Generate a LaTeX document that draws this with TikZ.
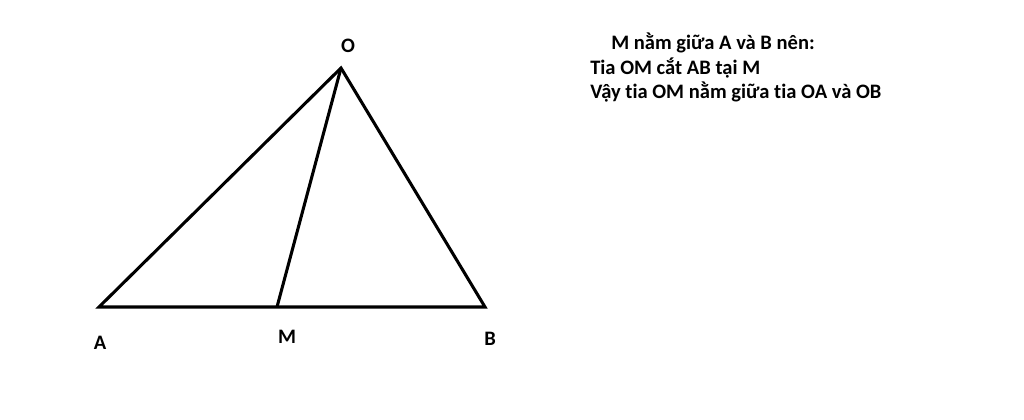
\documentclass[tikz,border=0pt]{standalone}
\usepackage{fontspec}
\setmainfont[Ligatures=NoCommon]{Carlito}
\begin{document}
\begin{tikzpicture}[x=0.75pt,y=-0.75pt,
  edge/.style={line width=2.3pt,black},
  lbl/.style={font=\fontsize{15.4}{18}\selectfont\bfseries,inner sep=0pt},
  txt/.style={font=\fontsize{15.4}{18}\selectfont\bfseries,inner sep=0pt,anchor=base west}]
\useasboundingbox (0,0) rectangle (1024,420);
\coordinate (O) at (341,68);
\coordinate (A) at (99,307);
\coordinate (M) at (277,307);
\coordinate (B) at (485,307);
\draw[edge,line join=miter] (A) -- (O) -- (B) -- cycle;
\draw[edge] (O) -- (M);
\node[lbl] (lO) at (348,46) {O};
\node[lbl] (lA) at (100,343) {A};
\node[lbl] (lM) at (287,337) {M};
\node[lbl] (lB) at (490,339) {B};
\node[txt] (t1) at (611,50) {M nằm giữa A và B nên:};
\node[txt] (t2) at (590,75) {Tia OM cắt AB tại M};
\node[txt] (t3) at (590,99) {Vậy tia OM nằm giữa tia OA và OB};
\end{tikzpicture}
\end{document}
